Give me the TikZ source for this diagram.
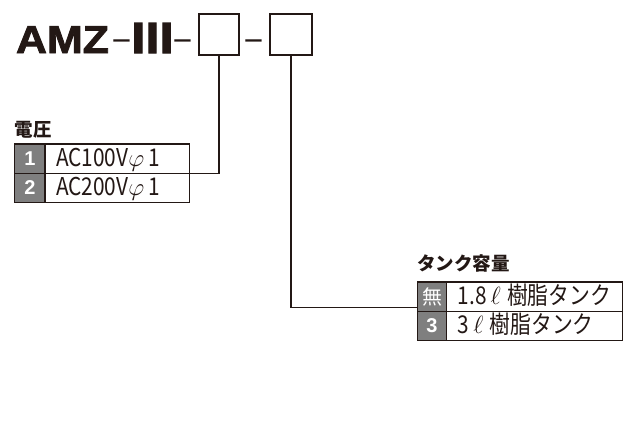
\documentclass[tikz,border=0pt]{standalone}
\usepackage{fontspec}
\setmainfont{Noto Sans CJK JP}
\newfontfamily\heavyfont[BoldFeatures={FakeBold=2}]{Liberation Sans}
\newfontfamily\romanfont[BoldFeatures={FakeBold=3}]{Noto Sans CJK JP}
\newfontfamily\condfont[FakeStretch=0.85]{Noto Sans CJK JP}
\newfontfamily\digitfont{Liberation Sans}
\usepackage{tikz}
\usetikzlibrary{calc, positioning}
\definecolor{inkblack}{HTML}{231815}
\definecolor{cellgray}{HTML}{7F7F7F}
\tikzset{
    textnode/.style = {draw=none, fill=none, rectangle, inner sep=0pt, outer sep=0pt, text=inkblack},
    modelnode/.style = {textnode, font=\heavyfont\bfseries\fontsize{39}{39}\selectfont, xscale=1.1},
    romannode/.style = {textnode, font=\romanfont\bfseries\fontsize{40}{40}\selectfont},
    dashnode/.style = {textnode, font=\fontsize{34}{34}\selectfont},
    boxnode/.style = {draw=inkblack, line width=1.8pt, rectangle, inner sep=0pt, outer sep=0pt, minimum height=41pt},
    headnode/.style = {textnode, font=\bfseries\fontsize{18.5}{18.5}\selectfont},
    numnode/.style = {draw=inkblack, fill=cellgray, line width=1.3pt, rectangle, inner sep=0pt, outer sep=0pt,
      text=white, font=\digitfont\bfseries\fontsize{20}{20}\selectfont, minimum height=29.3pt},
    cellnode/.style = {draw=inkblack, line width=1.3pt, rectangle, inner ysep=0pt, inner xsep=11pt, outer sep=0pt,
      align=left, text=inkblack, font=\condfont\fontsize{24.5}{24.5}\selectfont, minimum height=29.3pt,
      text height=18pt, text depth=3pt},
    connect/.style = {draw=inkblack, line width=1.1pt, -}
}
\newcommand{\litre}{\,$\mathit{\ell}$\hspace{0.25em}}

\begin{document}
\begin{tikzpicture}[x=1pt, y=-1pt]
\useasboundingbox (0,0) rectangle (642,424);
\node[modelnode, anchor=base west] (model) at (16,53) {AMZ};
\node[dashnode, anchor=base] (dash1) at (121.5,53) {−};
\node[romannode, anchor=base] (series) at (152.5,53) {Ⅲ};
\node[dashnode, anchor=base] (dash2) at (182.5,53) {−};
\node[boxnode, minimum width=40pt] (voltbox) at (219,34.5) {};
\node[dashnode, anchor=base] (dash3) at (254,53) {−};
\node[boxnode, minimum width=42pt] (tankbox) at (291,34.5) {};

\node[numnode, minimum width=30.3pt] (voltnum1) at (29.85,158.65) {1};
\node[cellnode, text width=122.5pt, right=0pt of voltnum1] (volt1) {\mbox{AC100V$\varphi$\,1}};
\node[numnode, minimum width=30.3pt, below=0pt of voltnum1] (voltnum2) {2};
\node[cellnode, text width=122.5pt, right=0pt of voltnum2] (volt2) {\mbox{AC200V$\varphi$\,1}};
\node[headnode, above=6pt of voltnum1.north west, anchor=south west] (volthead) {電圧};

\node[numnode, minimum width=29.4pt, font=\fontsize{20}{20}\selectfont] (tanknum1) at (432,296.5) {無};
\node[cellnode, text width=154pt, right=0pt of tanknum1] (tank1) {\mbox{1.8\litre 樹脂タンク}};
\node[numnode, minimum width=29.4pt, below=0pt of tanknum1] (tanknum2) {3};
\node[cellnode, text width=154pt, right=0pt of tanknum2] (tank2) {\mbox{3\litre 樹脂タンク}};
\node[headnode, above=10pt of tanknum1.north west, anchor=south west] (tankhead) {タンク容量};

\coordinate (tankin) at ([yshift=4pt]tanknum1.south west);
\draw[connect] (voltbox.south) |- (volt1.south east);
\draw[connect] (tankbox.south) |- (tankin);
\end{tikzpicture}
\end{document}
